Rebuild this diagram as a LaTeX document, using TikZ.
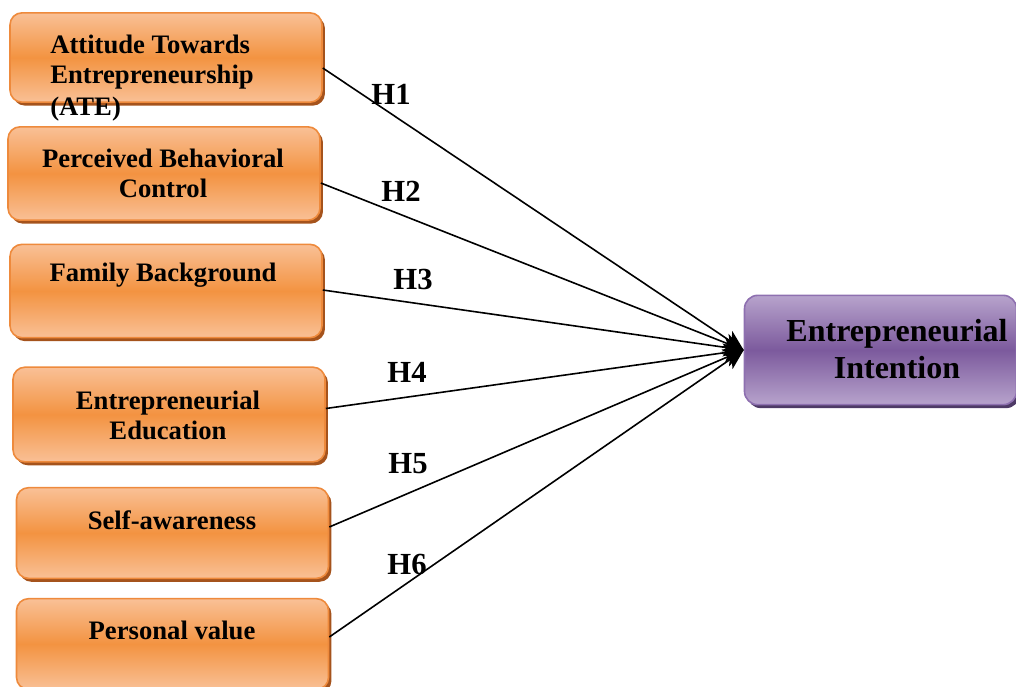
\documentclass[tikz,border=0pt]{standalone}
\usepackage{fontspec}
\setmainfont{Liberation Serif}
\usetikzlibrary{shadows,arrows.meta,calc}
\definecolor{orlight}{HTML}{F9C096}
\definecolor{ormid}{HTML}{F39341}
\definecolor{orline}{HTML}{EE8A3C}
\definecolor{orshadow}{HTML}{A5531C}
\definecolor{pulight}{HTML}{B7A3CC}
\definecolor{pumid}{HTML}{7C5A9D}
\definecolor{puline}{HTML}{8E70B0}
\definecolor{pushadow}{HTML}{4E3A66}
\tikzset{
  obox/.style={draw=orline, line width=1.2pt, rounded corners=9pt, shading=axis,
    top color=orlight, bottom color=orlight, middle color=ormid,
    drop shadow={shadow xshift=2.2pt, shadow yshift=-2.6pt, fill=orshadow, opacity=1},
    minimum width=234pt, inner sep=0pt},
  pbox/.style={draw=puline, line width=1.2pt, rounded corners=10pt, shading=axis,
    top color=pulight, bottom color=pulight, middle color=pumid,
    drop shadow={shadow xshift=2.2pt, shadow yshift=-2.6pt, fill=pushadow, opacity=1},
    minimum width=204pt, minimum height=82pt, inner sep=0pt},
  otext/.style={font=\bfseries\fontsize{20}{22.5}\selectfont, align=center, inner sep=0pt},
  hyp/.style={font=\bfseries\fontsize{23}{26}\selectfont, inner sep=0pt},
  link/.style={line width=1.2pt, -{Stealth[length=15pt,width=14pt,inset=4pt]}}
}
\begin{document}
\begin{tikzpicture}[x=0.75pt,y=-0.75pt]
\useasboundingbox (0,0) rectangle (1016,686);
\begin{scope}
\clip (0,0) rectangle (1016,686);
% boxes
\node[obox, minimum height=67pt] (b1) at (166,57.5) {};
\node[obox, minimum height=70pt] (b2) at (164,173.5) {};
\node[obox, minimum height=70pt] (b3) at (166,291) {};
\node[obox, minimum height=71pt] (b4) at (169,414.5) {};
\node[obox, minimum height=68pt] (b5) at (172.5,533) {};
\node[obox, minimum height=68pt] (b6) at (172.5,644) {};
\node[pbox] (ei) at (880.5,350) {};
\end{scope}
% texts
\node[otext, align=left, anchor=west] (t1) at (50,78) {Attitude Towards\\Entrepreneurship\\[2pt](ATE)};
\node[otext] (t2) at (163,173) {Perceived Behavioral\\Control};
\node[otext] (t3) at (163,275) {Family Background};
\node[otext] (t4) at (168,415) {Entrepreneurial\\Education};
\node[otext] (t5) at (172,520) {Self-awareness};
\node[otext] (t6) at (172,630) {Personal value};
\node[font=\bfseries\fontsize{24}{27.75}\selectfont, align=center, inner sep=0pt] (tei) at (897,349) {Entrepreneurial\\Intention};
% connectors
\draw[link] ($(b1.east)+(0,10.5)$) -- (ei.west);
\draw[link] ($(b2.east)+(0,9.5)$) -- (ei.west);
\draw[link] ($(b3.east)+(0,-1)$) -- (ei.west);
\draw[link] ($(b4.east)+(0,-6)$) -- (ei.west);
\draw[link] ($(b5.east)+(0,-6)$) -- (ei.west);
\draw[link] ($(b6.east)+(0,-7)$) -- (ei.west);
% hypothesis labels
\node[hyp] (h1) at (391,94) {H1};
\node[hyp] (h2) at (401,191) {H2};
\node[hyp] (h3) at (413,279) {H3};
\node[hyp] (h4) at (407,372) {H4};
\node[hyp] (h5) at (408,464) {H5};
\node[hyp] (h6) at (407,564) {H6};
\end{tikzpicture}
\end{document}
